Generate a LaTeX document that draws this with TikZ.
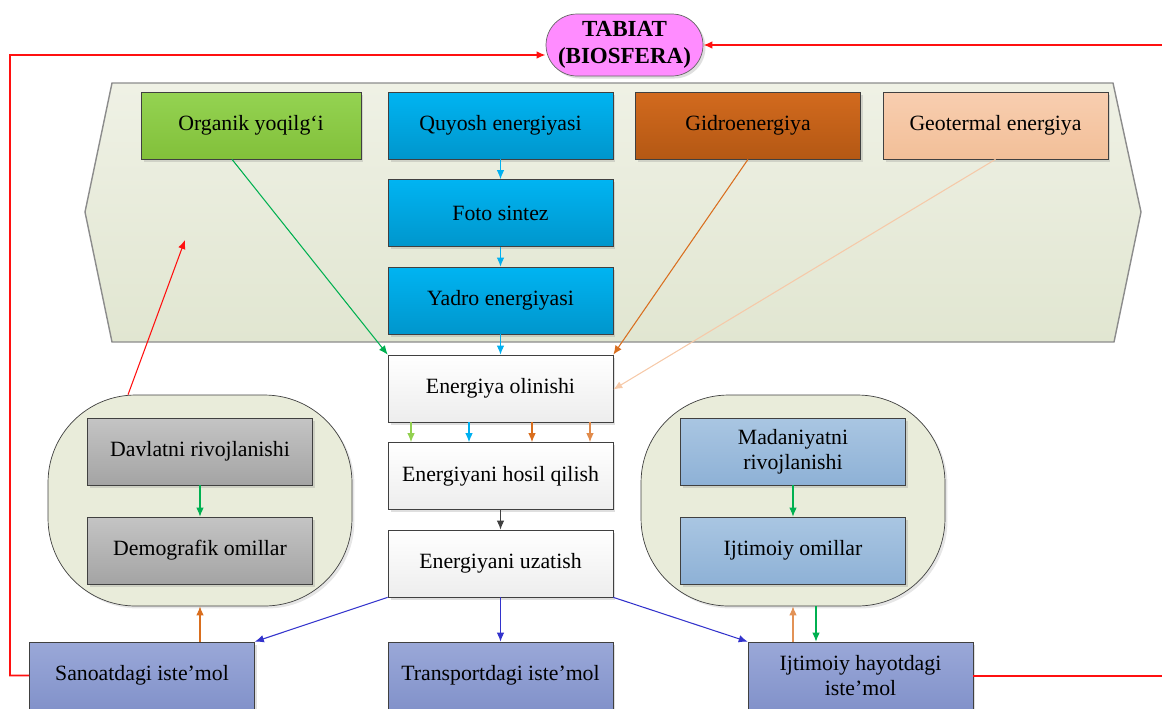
\documentclass[tikz,border=0pt]{standalone}
\usepackage{fontspec}
\setmainfont{Liberation Serif}
\usetikzlibrary{arrows.meta,shadows,shapes.misc}

\definecolor{panelTop}{HTML}{EFF1E5}
\definecolor{panelBot}{HTML}{E1E6D1}
\definecolor{contFill}{HTML}{E9ECDA}
\definecolor{greenTop}{HTML}{94D352}
\definecolor{greenBot}{HTML}{82C03A}
\definecolor{blueTop}{HTML}{00B4F2}
\definecolor{blueBot}{HTML}{0096CC}
\definecolor{hydroTop}{HTML}{D26A1E}
\definecolor{hydroBot}{HTML}{B45814}
\definecolor{geoTop}{HTML}{F8CEB0}
\definecolor{geoBot}{HTML}{F2BF98}
\definecolor{grayTop}{HTML}{C4C4C4}
\definecolor{grayBot}{HTML}{A4A4A4}
\definecolor{lblueTop}{HTML}{A9C6E2}
\definecolor{lblueBot}{HTML}{8EB1D6}
\definecolor{useTop}{HTML}{9AA8D8}
\definecolor{useBot}{HTML}{8292CA}
\definecolor{pinkFill}{HTML}{FF8CFF}
\definecolor{arGreen}{HTML}{00B050}
\definecolor{arCyan}{HTML}{00B0F0}
\definecolor{arOrange}{HTML}{D96E1E}
\definecolor{arPeach}{HTML}{F6C9A8}
\definecolor{arBlue}{HTML}{3333CC}
\definecolor{arLime}{HTML}{92D050}
\definecolor{arRed}{HTML}{FF1010}

\tikzset{
  box/.style={draw=black!75,minimum width=4.5cm,minimum height=1.34cm,align=center,
    drop shadow={shadow xshift=.05cm,shadow yshift=-.05cm,opacity=.25,fill=black!50}},
  cont/.style={draw=black!75,fill=contFill,rounded corners=1.75cm,minimum width=6.08cm,minimum height=4.22cm,
    drop shadow={shadow xshift=.05cm,shadow yshift=-.05cm,opacity=.2,fill=black!50}},
  flow/.style={-{Latex[length=1.8mm,width=1.5mm]},line width=.6pt},
  loop/.style={flow,arRed,line width=.9pt},
}

\begin{document}
\begin{tikzpicture}[x=0.02cm,y=-0.02cm,font=\fontsize{12.4}{14.5}\selectfont]
  \useasboundingbox (0,0) rectangle (1162,708);

  % upper panel
  \draw[draw=black!45,line width=.8pt,top color=panelTop,bottom color=panelBot]
    (112,83) -- (1113,83) -- (1141,212) -- (1114,342) -- (112,342) -- (85,212) -- cycle;

  \node[box,rounded rectangle,minimum width=3.14cm,minimum height=1.24cm,inner xsep=0pt,draw=black!60,fill=pinkFill,
    font=\fontsize{13.1}{15}\selectfont\bfseries] (tabiat) at (624.5,45) {TABIAT\\(BIOSFERA)};

  % energy sources
  \node[box,minimum width=4.4cm,top color=greenTop,bottom color=greenBot] (organik) at (251,125.5) {Organik yoqilg‘i};
  \node[box,top color=blueTop,bottom color=blueBot] (quyosh) at (500.5,125.5) {Quyosh energiyasi};
  \node[box,top color=hydroTop,bottom color=hydroBot] (gidro) at (748,125.5) {Gidroenergiya};
  \node[box,top color=geoTop,bottom color=geoBot] (geoterm) at (995.5,125.5) {Geotermal energiya};
  \node[box,top color=blueTop,bottom color=blueBot] (foto) at (500.5,213) {Foto sintez};
  \node[box,top color=blueTop,bottom color=blueBot] (yadro) at (500.5,300.5) {Yadro energiyasi};

  % energy chain
  \node[box,top color=white,bottom color=black!7] (olish) at (500.5,388.5) {Energiya olinishi};
  \node[box,top color=white,bottom color=black!7] (hosil) at (500.5,476) {Energiyani hosil qilish};
  \node[box,top color=white,bottom color=black!7] (uzat) at (500.5,563.5) {Energiyani uzatish};

  % side groups
  \node[cont] (leftc) at (200,500.5) {};
  \node[cont] (rightc) at (793,500.5) {};
  \node[box,top color=grayTop,bottom color=grayBot] (davlat) at (200,451.5) {Davlatni rivojlanishi};
  \node[box,top color=grayTop,bottom color=grayBot] (demo) at (200,550.5) {Demografik omillar};
  \node[box,top color=lblueTop,bottom color=lblueBot] (madan) at (793,451.5) {Madaniyatni\\rivojlanishi};
  \node[box,top color=lblueTop,bottom color=lblueBot] (ijtim) at (793,550.5) {Ijtimoiy omillar};

  % consumption
  \node[box,top color=useTop,bottom color=useBot] (sanoat) at (142,675.5) {Sanoatdagi iste’mol};
  \node[box,top color=useTop,bottom color=useBot] (transp) at (500.5,675.5) {Transportdagi iste’mol};
  \node[box,top color=useTop,bottom color=useBot] (hayot) at (860.5,675.5) {Ijtimoiy hayotdagi\\iste’mol};

  % arrows into the chain
  \draw[flow,arGreen] ([xshift=-.38cm]organik.south) -- (olish.north west);
  \draw[flow,arCyan] (quyosh) -- (foto);
  \draw[flow,arCyan] (foto) -- (yadro);
  \draw[flow,arCyan] (yadro) -- (olish);
  \draw[flow,arOrange] (gidro.south) -- (olish.north east);
  \draw[flow,arPeach] (geoterm.south) -- ([yshift=-.02cm]olish.east);
  \foreach \dx/\col in {-1.79/arLime,-.63/arCyan,.63/arOrange,1.79/arOrange!80!white}{
    \draw[flow,\col] ([xshift=\dx cm]olish.south) -- ([xshift=\dx cm]hosil.north);
  }
  \draw[flow,black!75] (hosil) -- (uzat);

  % distribution
  \draw[flow,arBlue] (uzat.south west) -- (sanoat.north east);
  \draw[flow,arBlue] (uzat) -- (transp);
  \draw[flow,arBlue] (uzat.south east) -- (hayot.north west);

  % side group links
  \draw[flow,arGreen] (davlat) -- (demo);
  \draw[flow,arGreen] (madan) -- (ijtim);
  \draw[flow,arOrange] (leftc.south |- sanoat.north) -- (leftc.south);
  \draw[flow,arOrange!75!white] (rightc.south |- hayot.north) -- (rightc.south);
  \draw[flow,arGreen] ([xshift=.46cm]rightc.south) -- ([xshift=.46cm]rightc.south |- hayot.north);
  \draw[flow,arRed] ([xshift=-1.44cm]leftc.north) -- (185,240);

  % loops back to nature (right one runs off the page)
  \coordinate (rout) at (1162,676);
  \coordinate (rin) at (1162,45);
  \draw[loop] (sanoat.west) -| (10,55) -- ([yshift=-.2cm]tabiat.west);
  \draw[loop,-] (hayot.east |- rout) -- (rout);
  \draw[loop] (rin) -- (tabiat.east);
\end{tikzpicture}
\end{document}
